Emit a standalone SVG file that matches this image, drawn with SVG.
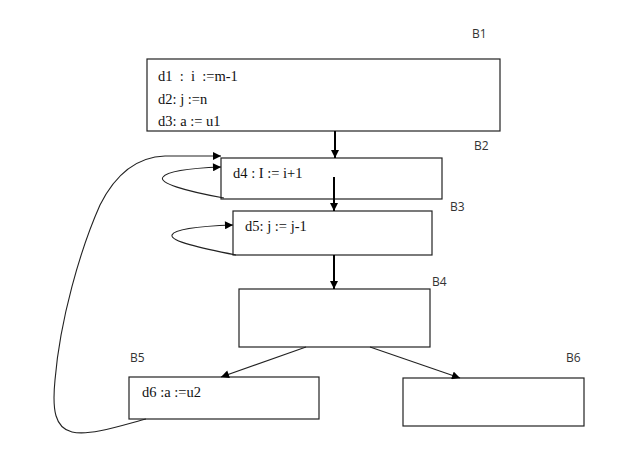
<svg xmlns="http://www.w3.org/2000/svg" width="627" height="455" viewBox="0 0 627 455">
<defs>
<style>
.box{fill:#fff;stroke:#222;stroke-width:1.2}
.t{font-family:"Liberation Serif","Times New Roman",serif;font-size:14.5px;fill:#111;white-space:pre}
.lbl{font-family:"Open Sans","Liberation Sans",sans-serif;font-size:12px;fill:#333}
.thick{fill:none;stroke:#000;stroke-width:2}
.thin{fill:none;stroke:#222;stroke-width:1.1}
</style>
<marker id="ah" viewBox="0 0 10 10" refX="10" refY="5" markerWidth="10" markerHeight="8" markerUnits="userSpaceOnUse" orient="auto">
<path d="M0,0 L10,5 L0,10 z" fill="#000"/>
</marker>
</defs>
<rect width="627" height="455" fill="#fff"/>
<g id="B1">
<rect class="box" x="147" y="59" width="353" height="72"/>
<text class="t" x="158" y="81" xml:space="preserve">d1  :  i  :=m-1</text>
<text class="t" x="158" y="104">d2: j :=n</text>
<text class="t" x="158" y="126">d3: a := u1</text>
<text class="lbl" x="472" y="38">B1</text>
</g>
<g id="B2">
<rect class="box" x="221" y="158" width="221" height="41"/>
<text class="t" x="233" y="178">d4 : I := i+1</text>
<text class="lbl" x="474" y="150">B2</text>
</g>
<g id="B3">
<rect class="box" x="233" y="211" width="199" height="44"/>
<text class="t" x="245" y="231">d5: j := j-1</text>
<text class="lbl" x="450" y="211">B3</text>
</g>
<g id="B4">
<rect class="box" x="239" y="289" width="191" height="58"/>
<text class="lbl" x="432" y="286">B4</text>
</g>
<g id="B5">
<rect class="box" x="129" y="377" width="190" height="42"/>
<text class="t" x="142" y="397">d6 :a :=u2</text>
<text class="lbl" x="130" y="362">B5</text>
</g>
<g id="B6">
<rect class="box" x="403" y="378" width="181" height="48"/>
<text class="lbl" x="566" y="362">B6</text>
</g>
<g id="connectors">
<line class="thick" x1="335" y1="131" x2="335" y2="158" marker-end="url(#ah)"/>
<line class="thick" x1="334" y1="177" x2="334" y2="211" marker-end="url(#ah)"/>
<line class="thick" x1="334" y1="255" x2="334" y2="289" marker-end="url(#ah)"/>
<line class="thin" x1="306" y1="347" x2="221" y2="377" marker-end="url(#ah)"/>
<line class="thin" x1="370" y1="347" x2="460" y2="378" marker-end="url(#ah)"/>
<path class="thin" d="M224,198 C185,191 158,183 163,177 C168,170 195,168 221,167" marker-end="url(#ah)"/>
<path class="thin" d="M236,255 C200,248 170,241 172,235 C175,228 205,226 233,225" marker-end="url(#ah)"/>
<path class="thin" d="M146,419 C120,426 90,436 72,432 C55,428 52,410 55,380 C60,320 80,250 100,205 C115,175 135,157 165,156 L221,156" marker-end="url(#ah)"/>
</g>
</svg>
